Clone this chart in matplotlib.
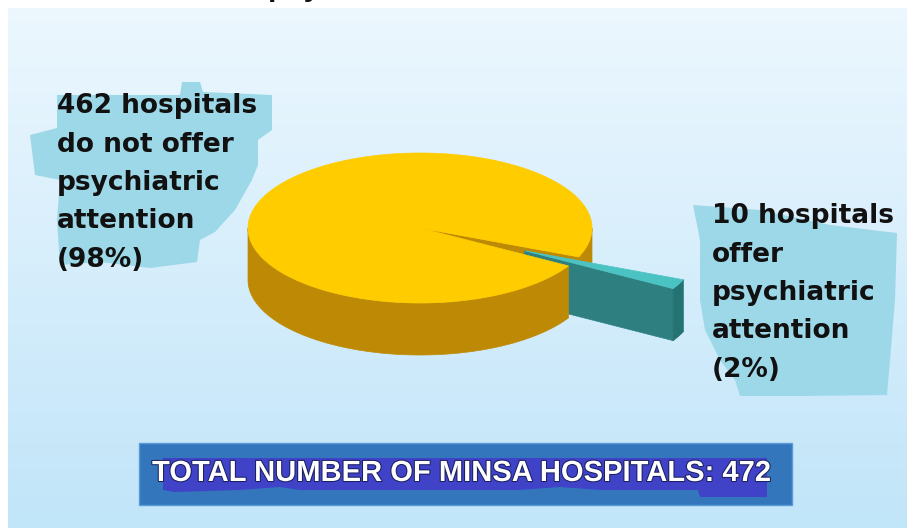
import numpy as np
import matplotlib.pyplot as plt
from matplotlib.patches import Polygon, Rectangle
import matplotlib.patheffects as pe

# data
counts = [462, 10]
top_colors = ['#FFCC00', '#4CC3C3']
side_colors = ['#BE8A05', '#2E8080']
explode = [0.0, 0.68]
labels = ['462 hospitals\ndo not offer\npsychiatric\nattention\n(98%)',
          '10 hospitals\noffer\npsychiatric\nattention\n(2%)']
total_label = 'TOTAL NUMBER OF MINSA HOSPITALS: 472'

plt.rcParams['font.family'] = ['Liberation Sans', 'DejaVu Sans']

W, H = 907, 528
fig = plt.figure(figsize=(W / 100, H / 100), dpi=100)
ax = fig.add_axes([0, 0, 1, 1])
ax.set_xlim(0, W)
ax.set_ylim(H, 0)
ax.axis('off')

# background panel with vertical gradient
grad = np.linspace(0, 1, 256)[:, None]
c_top = np.array([236, 247, 254]) / 255
c_bot = np.array([193, 229, 249]) / 255
img = c_top[None, None, :] * (1 - grad[..., None]) + c_bot[None, None, :] * grad[..., None]
img = np.repeat(img, 2, axis=1)
ax.imshow(img, extent=[8, W, H, 8], aspect='auto', zorder=0)

# cut-off title fragment at the very top
ax.text(268, -5, 'psy', fontsize=22, fontweight='bold', color='#111111',
        va='baseline', ha='left', zorder=1)

# 3D pie geometry (pixels)
cx, cy, rx, ry, depth = 420, 228, 172, 75, 52
start = np.deg2rad(-22.7)
fr = np.array(counts) / sum(counts)
edges = start + np.concatenate([[0], np.cumsum(fr)]) * 2 * np.pi


def pt(a, off, z=0):
    return (cx + off[0] + rx * np.cos(a), cy + off[1] - ry * np.sin(a) + z)


def arc(a0, a1, off, z=0, n=200):
    aa = np.linspace(a0, a1, n)
    return [pt(a, off, z) for a in aa]


def front_runs(a0, a1):
    aa = np.linspace(a0, a1, 2000)
    front = np.sin(aa) < 0
    runs = []
    i = 0
    while i < len(aa):
        if front[i]:
            j = i
            while j + 1 < len(aa) and front[j + 1]:
                j += 1
            runs.append((aa[i], aa[j]))
            i = j + 1
        else:
            i += 1
    return runs


def side(a0, a1, off, color, z):
    top = arc(a0, a1, off)
    bot = arc(a1, a0, off, depth)
    ax.add_patch(Polygon(top + bot, closed=True, fc=color, ec=color, lw=0.5, zorder=z))


def face(a, off, color, z):
    c0 = (cx + off[0], cy + off[1])
    r0 = pt(a, off)
    ax.add_patch(Polygon([c0, r0, (r0[0], r0[1] + depth), (c0[0], c0[1] + depth)],
                         closed=True, fc=color, ec=color, lw=0.5, zorder=z))


def top(a0, a1, off, color, z):
    c0 = (cx + off[0], cy + off[1])
    ax.add_patch(Polygon([c0] + arc(a0, a1, off), closed=True, fc=color, ec=color,
                         lw=0.5, zorder=z))


offs = []
for i in range(len(counts)):
    mid = (edges[i] + edges[i + 1]) / 2
    offs.append((explode[i] * rx * np.cos(mid), -explode[i] * ry * np.sin(mid)))

# big slice: radial face at its start, then its front sides
face(edges[0], offs[0], side_colors[0], 2)
yruns = front_runs(edges[0], edges[1])
side(yruns[0][0], yruns[0][1], offs[0], side_colors[0], 2)
# small exploded slice
face(edges[1], offs[1], side_colors[1], 3)
side(edges[1], edges[2], offs[1], '#257272', 3)
for r in yruns[1:]:
    side(r[0], r[1], offs[0], side_colors[0], 4)
top(edges[0], edges[1], offs[0], top_colors[0], 5)
top(edges[1], edges[2], offs[1], top_colors[1], 6)

# label backgrounds (rough blobs)
blob_c = '#9DD8E8'
left_blob = [(57, 95), (180, 95), (182, 82), (200, 82), (203, 92), (272, 95), (272, 130),
             (258, 140), (258, 165), (252, 180), (235, 210), (215, 232), (200, 240),
             (197, 262), (150, 268), (100, 262), (60, 265), (57, 220), (60, 180),
             (35, 175), (30, 135), (57, 128)]
right_blob = [(693, 205), (760, 210), (830, 225), (897, 233), (895, 300), (890, 360),
              (887, 395), (800, 396), (740, 396), (735, 380), (720, 360), (705, 330),
              (700, 300), (700, 240)]
ax.add_patch(Polygon(left_blob, closed=True, fc=blob_c, ec='none', zorder=7))
ax.add_patch(Polygon(right_blob, closed=True, fc=blob_c, ec='none', zorder=7))

# labels
for txt, (x0, y0) in zip(labels, [(57, 113), (712, 223)]):
    for k, line in enumerate(txt.split('\n')):
        ax.text(x0, y0 + k * 38.5, line, fontsize=19, fontweight='bold',
                family='DejaVu Sans', color='#111111', va='baseline', ha='left',
                zorder=8)

# total box
ax.add_patch(Rectangle((139, 443), 653, 62, fc='#3476BC', ec='#5A9AD6', lw=1, zorder=7))
hl = [(163, 458), (767, 458), (767, 497), (700, 497), (698, 490), (600, 490),
      (560, 487), (520, 490), (300, 490), (280, 487), (240, 490), (175, 492), (163, 490)]
ax.add_patch(Polygon(hl, closed=True, fc='#4042C8', ec='none', zorder=8))
ax.text(152, 481, total_label, fontsize=21, fontweight='bold', color='white',
        va='baseline', ha='left', zorder=9,
        path_effects=[pe.withStroke(linewidth=1.5, foreground='#1A2060')])

fig.savefig('out.png', dpi=100)
